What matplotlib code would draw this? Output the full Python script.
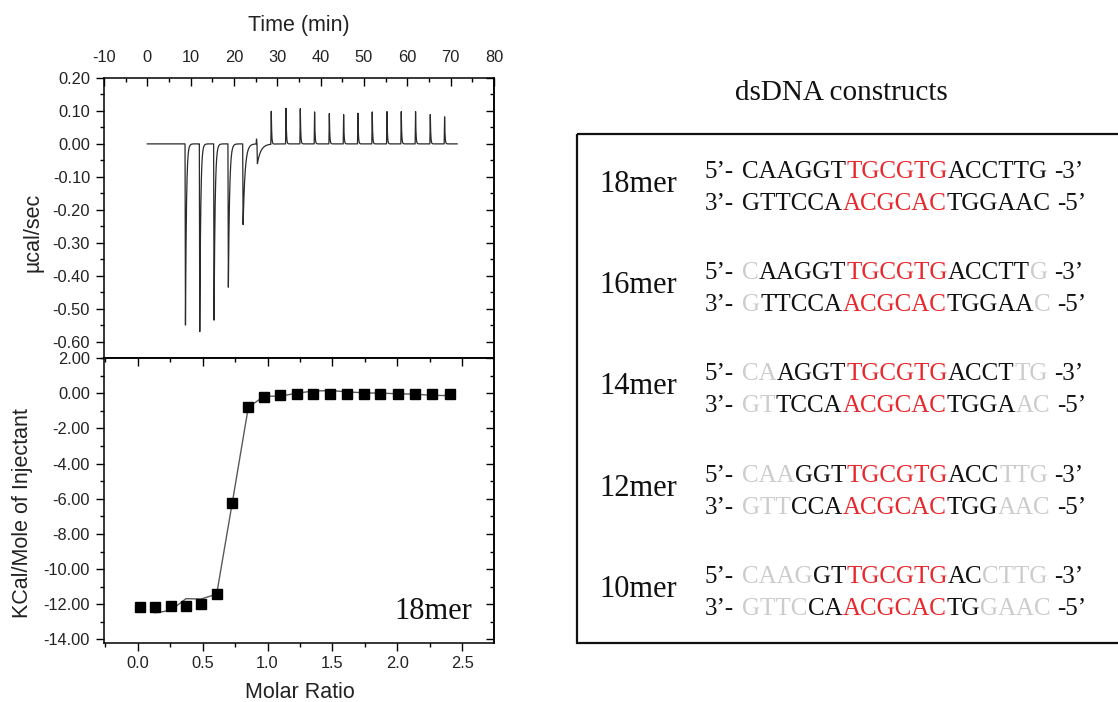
import matplotlib
matplotlib.use("Agg")
import numpy as np
import matplotlib.pyplot as plt
from matplotlib.ticker import MultipleLocator, FormatStrFormatter
from matplotlib.patches import Rectangle

plt.rcParams['axes.unicode_minus'] = False
plt.rcParams['font.family'] = ['Liberation Sans', 'DejaVu Sans']

# ---------------- data ----------------
# raw thermogram: injection times (min), peak heights (ucal/sec), decay constants (min)
inj_times = [8.7, 12.0, 15.3, 18.6, 22.0, 25.1, 25.3, 28.5, 31.9, 35.2, 38.5, 41.9,
             45.2, 48.5, 51.8, 55.2, 58.5, 61.8, 65.2, 68.5]
peak_heights = [-0.55, -0.57, -0.535, -0.435, -0.245, 0.015, -0.06, 0.100, 0.108, 0.107,
                0.097, 0.092, 0.089, 0.093, 0.097, 0.098, 0.098, 0.098, 0.089, 0.082]
peak_decay = [0.22, 0.22, 0.24, 0.28, 0.45, 0.05, 0.8, 0.1, 0.1, 0.1,
              0.1, 0.1, 0.1, 0.1, 0.1, 0.1, 0.1, 0.1, 0.1, 0.1]
run_start, run_end = 0.0, 71.5

# integrated heats
molar_ratio = [0.02, 0.133, 0.254, 0.372, 0.488, 0.608, 0.729, 0.852, 0.975, 1.099,
               1.224, 1.353, 1.481, 1.609, 1.740, 1.869, 2.002, 2.135, 2.271, 2.405]
heat = [-12.14, -12.14, -12.10, -12.09, -11.97, -11.42, -6.24, -0.80, -0.21, -0.09,
        -0.04, -0.02, -0.02, -0.02, -0.02, -0.02, -0.02, -0.02, -0.02, -0.02]
fit_ratio = molar_ratio[1:]
fit_heat = [-12.48, -12.35, -11.68, -11.70, -11.42, -6.2, -0.8, -0.17, -0.17,
            0.0, 0.12, 0.15, 0.08, 0.02, 0.0, -0.03, -0.06, -0.12, -0.14]

# dsDNA constructs
construct_lengths = [18, 16, 14, 12, 10]
top_strand = "CAAGGTTGCGTGACCTTG"
bottom_strand = "GTTCCAACGCACTGGAAC"
core_start, core_end = 6, 12

# ---------------- figure ----------------
W, H = 1118, 702
fig = plt.figure(figsize=(W / 100, H / 100), dpi=100)


def fx(px):
    return px / W


def fy(py):
    return 1 - py / H


ax1 = fig.add_axes([fx(104), fy(358), fx(494) - fx(104), fy(78) - fy(358)])
ax2 = fig.add_axes([fx(104), fy(643), fx(494) - fx(104), fy(358) - fy(643)])

TICK_SIZE = 11.8
LABEL_SIZE = 15.5
TCOL = '#222222'

# --- thermogram ---
t = np.arange(run_start, run_end, 0.01)
sig = np.zeros_like(t)
rise = 0.1
for t0, h, tau in zip(inj_times, peak_heights, peak_decay):
    dt = t - t0
    shape = np.where(dt < 0, 0.0,
                     np.where(dt < rise, dt / rise, np.exp(-np.clip(dt - rise, 0, None) / tau)))
    sig += h * shape
ax1.plot(t, sig, color='#2a2a2a', lw=0.9)

ax1.set_xlim(-10, 80)
ax1.set_ylim(-0.65, 0.20)
ax1.xaxis.set_major_locator(MultipleLocator(10))
ax1.xaxis.set_minor_locator(MultipleLocator(5))
ax1.xaxis.set_major_formatter(FormatStrFormatter('%d'))
ax1.xaxis.tick_top()
ax1.xaxis.set_label_position('top')
ax1.tick_params(axis='x', which='both', direction='in', top=True, bottom=False,
                labeltop=True, labelbottom=False, pad=9)
ax1.yaxis.set_major_locator(MultipleLocator(0.1))
ax1.yaxis.set_minor_locator(MultipleLocator(0.05))
ax1.yaxis.set_major_formatter(FormatStrFormatter('%.2f'))
ax1.tick_params(axis='y', which='both', direction='out', left=True, right=False, pad=4.5)
sec1 = ax1.secondary_yaxis('right')
sec1.yaxis.set_major_locator(MultipleLocator(0.1))
sec1.yaxis.set_minor_locator(MultipleLocator(0.05))
sec1.tick_params(which='both', direction='in', labelright=False)
ax1.set_xlabel('Time (min)', fontsize=LABEL_SIZE, color=TCOL)
ax1.xaxis.set_label_coords(0.5, 1.189)
ax1.xaxis.label.set_va('center')
ax1.set_ylabel('µcal/sec', fontsize=LABEL_SIZE, color=TCOL, va='center')
ax1.yaxis.set_label_coords(-0.182, 0.45)

# --- isotherm ---
ax2.plot(fit_ratio, fit_heat, '-', color='#5a5a5a', lw=1.0, zorder=2)
ax2.plot(molar_ratio, heat, 's', color='black', ms=6.5, zorder=3)
ax2.set_xlim(-0.26, 2.745)
ax2.set_ylim(-14.2, 2.0)
ax2.xaxis.set_major_locator(MultipleLocator(0.5))
ax2.xaxis.set_minor_locator(MultipleLocator(0.25))
ax2.xaxis.set_major_formatter(FormatStrFormatter('%.1f'))
ax2.tick_params(axis='x', which='both', direction='out', bottom=True, top=False, pad=3.5)
sec2x = ax2.secondary_xaxis('top')
sec2x.xaxis.set_major_locator(MultipleLocator(0.5))
sec2x.xaxis.set_minor_locator(MultipleLocator(0.25))
sec2x.tick_params(which='both', direction='in', labeltop=False)
ax2.yaxis.set_major_locator(MultipleLocator(2))
ax2.yaxis.set_minor_locator(MultipleLocator(1))
ax2.yaxis.set_major_formatter(FormatStrFormatter('%.2f'))
ax2.tick_params(axis='y', which='both', direction='out', left=True, right=False, pad=4.5)
sec2y = ax2.secondary_yaxis('right')
sec2y.yaxis.set_major_locator(MultipleLocator(2))
sec2y.yaxis.set_minor_locator(MultipleLocator(1))
sec2y.tick_params(which='both', direction='in', labelright=False)
ax2.set_xlabel('Molar Ratio', fontsize=LABEL_SIZE, color=TCOL, va='center')
ax2.xaxis.set_label_coords(0.503, -0.172)
ax2.set_ylabel('KCal/Mole of Injectant', fontsize=LABEL_SIZE, color=TCOL, va='center')
ax2.yaxis.set_label_coords(-0.209, 0.456)
ax2.text(0.944, 0.112, '18mer', transform=ax2.transAxes, ha='right', va='center',
         family='Liberation Serif', fontsize=22, color='#111111')

for a in (ax1, ax2, sec1, sec2x, sec2y):
    a.tick_params(which='major', length=5.5, width=1.0, labelsize=TICK_SIZE, labelcolor=TCOL)
    a.tick_params(which='minor', length=3.0, width=1.0)
    for s in a.spines.values():
        s.set_linewidth(1.1)

# --- right panel ---
axo = fig.add_axes([0, 0, 1, 1])
axo.set_axis_off()
axo.set_xlim(0, W)
axo.set_ylim(H, 0)

axo.text(841, 93, 'dsDNA constructs', family='Liberation Serif', fontsize=21,
         ha='center', va='center', color='#111111')
axo.add_patch(Rectangle((577, 134), 560, 509, fill=False, lw=1.6, ec='#111111'))

RED = '#e8282c'
GRAY = '#cccccc'
BLACK = '#111111'
SEQ_SIZE = 18
serif = 'Liberation Serif'


def colors_for(L):
    n = (18 - L) // 2
    cols = []
    for i in range(18):
        if i < n or i >= 18 - n:
            cols.append(GRAY)
        elif core_start <= i < core_end:
            cols.append(RED)
        else:
            cols.append(BLACK)
    return cols


def segments(seq, cols):
    segs = []
    for ch, c in zip(seq, cols):
        if segs and segs[-1][1] == c:
            segs[-1][0] += ch
        else:
            segs.append([ch, c])
    return segs


def draw_line(x, y, left, seq, cols, right):
    prev = axo.text(x, y, left, family=serif, fontsize=SEQ_SIZE, color=BLACK, va='baseline')
    first = True
    for s, c in segments(seq, cols):
        prev = axo.annotate(s, xy=(1, 0), xycoords=prev, xytext=(6.0 if first else 0, 0),
                            textcoords='offset points', va='bottom', ha='left',
                            family=serif, fontsize=SEQ_SIZE, color=c)
        first = False
    axo.annotate(right, xy=(1, 0), xycoords=prev, xytext=(4.6, 0),
                 textcoords='offset points', va='bottom', ha='left',
                 family=serif, fontsize=SEQ_SIZE, color=BLACK)


for i, L in enumerate(construct_lengths):
    yb = 178 + i * 101.2
    cols = colors_for(L)
    axo.text(599, yb + 14, f'{L}mer', family=serif, fontsize=22, color=BLACK, va='baseline')
    draw_line(705, yb, '5’-', top_strand, cols, '-3’')
    draw_line(705, yb + 32, '3’-', bottom_strand, cols, '-5’')

fig.savefig('out.png', dpi=100)
